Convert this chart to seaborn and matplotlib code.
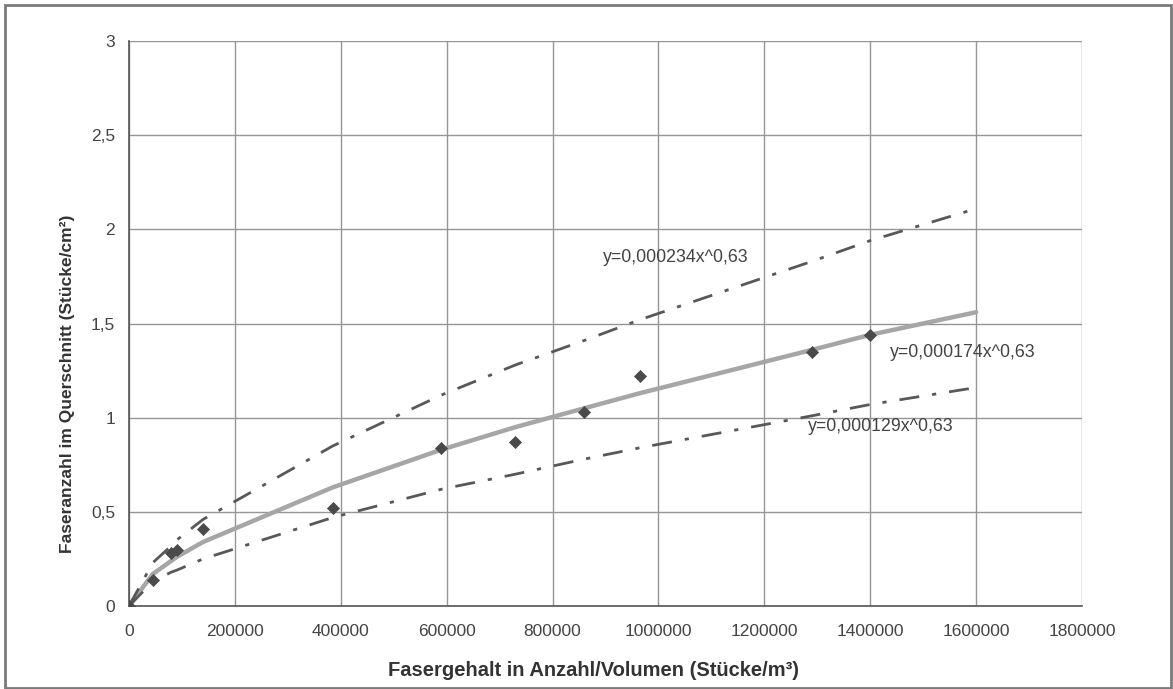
import matplotlib
matplotlib.use("Agg")
import matplotlib.pyplot as plt
import seaborn as sns
import pandas as pd
from matplotlib.patches import Rectangle
from matplotlib.ticker import FuncFormatter, MultipleLocator

# ---- data ----
meas_x = [0, 45000, 80000, 90000, 140000, 385000, 590000, 730000, 860000, 965000, 1290000, 1400000]
meas_y = [0, 0.14, 0.28, 0.30, 0.41, 0.52, 0.84, 0.87, 1.03, 1.22, 1.35, 1.44]

fit_x = [0, 45000, 80000, 90000, 140000, 385000, 590000, 730000, 860000, 965000, 1290000, 1400000, 1600000]
fit_mid = [0, 0.17, 0.24, 0.26, 0.34, 0.63, 0.83, 0.95, 1.05, 1.13, 1.36, 1.44, 1.56]
fit_upper = [0, 0.23, 0.32, 0.35, 0.46, 0.85, 1.12, 1.28, 1.41, 1.52, 1.83, 1.94, 2.11]
fit_lower = [0, 0.13, 0.18, 0.19, 0.25, 0.47, 0.62, 0.70, 0.78, 0.84, 1.01, 1.07, 1.16]

label_upper = "y=0,000234x^0,63"
label_mid = "y=0,000174x^0,63"
label_lower = "y=0,000129x^0,63"

x_title = "Fasergehalt in Anzahl/Volumen (Stücke/m³)"
y_title = "Faseranzahl im Querschnitt (Stücke/cm²)"

sns.set_style("white")
plt.rcParams['font.family'] = ['Liberation Sans', 'DejaVu Sans']

fig = plt.figure(figsize=(11.73, 6.89), dpi=100)
ax = fig.add_axes([129/1173, 1 - 606/689, (1082-129)/1173, (606-41)/689])

fit_df = pd.DataFrame({"x": fit_x, "mid": fit_mid, "upper": fit_upper, "lower": fit_lower})
meas_df = pd.DataFrame({"x": meas_x, "y": meas_y})

sns.lineplot(data=fit_df, x="x", y="mid", ax=ax, color="#a6a6a6", lw=3.2,
             estimator=None, sort=False, zorder=3)
for col in ["upper", "lower"]:
    sns.lineplot(data=fit_df, x="x", y=col, ax=ax, color="#585858", lw=2.0,
                 estimator=None, sort=False, zorder=3,
                 dashes=False, linestyle=(0, (7.2, 4.7, 1.5, 4.7)))
sns.scatterplot(data=meas_df, x="x", y="y", ax=ax, marker="D", s=38,
                color="#4a4a4a", edgecolor="#4a4a4a", linewidth=0.5, zorder=4)

ax.set_xlim(0, 1800000)
ax.set_ylim(0, 3)
ax.xaxis.set_major_locator(MultipleLocator(200000))
ax.yaxis.set_major_locator(MultipleLocator(0.5))
ax.xaxis.set_major_formatter(FuncFormatter(lambda v, p: f"{int(round(v))}"))
ax.yaxis.set_major_formatter(FuncFormatter(
    lambda v, p: (f"{v:g}").replace(".", ",")))

ax.grid(True, color="#959595", lw=1.0)
ax.set_axisbelow(True)
for s in ["top", "right"]:
    ax.spines[s].set_visible(False)
for s in ["left", "bottom"]:
    ax.spines[s].set_color("#555555")
    ax.spines[s].set_linewidth(1.2)
ax.tick_params(axis="both", which="major", direction="out", length=5, width=1,
               color="#555555", labelsize=12.5, labelcolor="#444444")
ax.tick_params(axis="y", pad=5)
ax.tick_params(axis="x", pad=8)

ax.set_xlabel(x_title, fontsize=14.5, fontweight="bold", color="#333333")
ax.set_ylabel(y_title, fontsize=12.5, fontweight="bold", color="#333333")
ax.xaxis.set_label_coords(0.487, -0.097)
ax.yaxis.set_label_coords(-0.057, 0.393)

ax.text(895000, 1.85, label_upper, fontsize=12.8, color="#444444", va="center", ha="left")
ax.text(1437000, 1.347, label_mid, fontsize=12.8, color="#444444", va="center", ha="left")
ax.text(1282000, 0.952, label_lower, fontsize=12.8, color="#444444", va="center", ha="left")

fig.patches.append(Rectangle((5/1173, 1/689), 1166/1173, 683/689, transform=fig.transFigure,
                             fill=False, edgecolor="#7a7a7a", lw=2.0))

fig.savefig("out.png", dpi=100)
